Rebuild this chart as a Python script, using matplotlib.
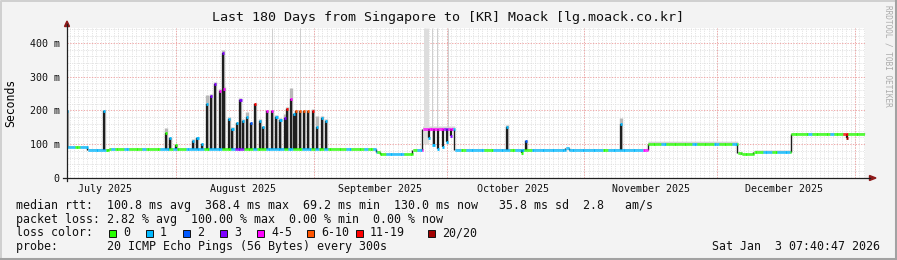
"""SmokePing style latency chart: Last 180 Days from Singapore to [KR] Moack."""

import datetime as dt

import numpy as np
import matplotlib
matplotlib.use("Agg")
import matplotlib.pyplot as plt
import matplotlib.dates as mdates
from matplotlib.patches import Rectangle, Polygon

MONO = "DejaVu Sans Mono"

START = dt.datetime(2025, 7, 7, 7, 40, 47)
SPAN_DAYS = 180

LOSS_COLORS = ["#26ff00", "#00b8ff", "#0059ff", "#7e00ff",
               "#ff00ff", "#ff5500", "#ff0000", "#a10000"]
LOSS_LABELS = ["0", "1", "2", "3", "4-5", "6-10", "11-19", "20/20"]

# median rtt as steps: day offset (from START) where a level begins, level in ms
base_start = [0.0, 4.6, 8.9, 9.4, 69.7, 70.6, 77.9, 80.1, 87.3,
              112.3, 113.2, 131.0, 151.2, 152.1, 154.8, 157.8, 163.2]
base_ms = [91, 84, 82, 86, 78, 70, 84, 146, 84,
           90, 84, 100, 74, 70, 77, 76, 130]
# light smoke spread above the median for each step (ms)
base_smoke = [4, 3, 3, 3, 3, 4, 3, 8, 3,
              3, 3, 9, 4, 4, 6, 7, 4]

# loss class of the median, one character per day
loss_codes = (
    "110111111"
    "01001000100011010011"
    "110111001330010011110100110101"
    "0000100010"
    "10011110001"
    "4444434"
    "11011110011110110011111111111111110111111114"
    "00010000001000010001"
    "000000110111"
    "00001000010060000"
)

# upward spikes: day offset, median peak (ms), smoke top (ms), loss class
spike_day = [0.2, 8.4, 22.4, 23.3, 24.7, 28.5, 29.5, 30.5, 31.6, 32.5,
             33.4, 34.6, 35.2, 35.5, 36.6, 37.4, 38.5, 39.2, 39.8, 40.6,
             41.5, 42.5, 43.6, 44.3, 45.2, 46.3, 47.3, 48.2, 49.2, 49.7,
             50.6, 51.2, 51.8, 52.6, 53.5, 54.5, 55.5, 56.5, 57.5, 58.4,
             99.2, 103.5, 124.9]
spike_ms = [197, 197, 132, 118, 97, 110, 118, 100, 220, 244,
            279, 258, 370, 262, 176, 146, 162, 232, 170, 182,
            162, 218, 170, 150, 197, 197, 182, 173, 179, 205,
            235, 188, 197, 197, 197, 197, 197, 150, 179, 170,
            151, 110, 161]
spike_smoke = [200, 200, 147, 122, 100, 114, 122, 104, 245, 250,
               285, 262, 378, 268, 182, 150, 166, 238, 176, 195,
               166, 222, 174, 154, 200, 200, 186, 178, 190, 210,
               265, 192, 200, 200, 200, 200, 205, 185, 183, 176,
               158, 112, 178]
spike_loss = [1, 1, 0, 1, 0, 1, 1, 1, 1, 3,
              3, 4, 3, 4, 1, 1, 1, 3, 1, 1,
              2, 6, 1, 1, 4, 4, 1, 1, 3, 6,
              4, 1, 5, 5, 5, 5, 6, 1, 1, 1,
              1, 2, 1]

# downward dips: day offset, lowest median (ms), loss class
dip_day = [81.6, 82.7, 83.7, 84.8, 85.7, 86.6, 102.6, 175.8]
dip_ms = [118, 97, 85, 91, 106, 125, 75, 118]
dip_loss = [1, 1, 1, 1, 1, 3, 0, 7]

# smoke columns running off the top of the graph: day offset, width (px)
tall_day = [46.3, 52.6, 80.9, 82.3, 83.4, 85.9]
tall_px = [1, 1, 5, 1, 1, 1]

# summary legend
median_line = "median rtt:  100.8 ms avg  368.4 ms max  69.2 ms min  130.0 ms now   35.8 ms sd  2.8   am/s"
loss_line = "packet loss: 2.82 % avg  100.00 % max  0.00 % min  0.00 % now"
probe_line = "probe:       20 ICMP Echo Pings (56 Bytes) every 300s"
stamp = "Sat Jan  3 07:40:47 2026"
title = "Last 180 Days from Singapore to [KR] Moack [lg.moack.co.kr]"

W, H = 897, 260
fig = plt.figure(figsize=(W / 100, H / 100), dpi=100, facecolor="#F3F3F3")
x0_px, x1_px, top_px, bot_px = 66.5, 865.3, 28, 178
ax = fig.add_axes([x0_px / W, (H - bot_px) / H, (x1_px - x0_px) / W, (bot_px - top_px) / H])
ax.set_facecolor("white")

t0 = mdates.date2num(START)
ax.set_xlim(t0, t0 + SPAN_DAYS)
ax.set_ylim(0, 444)

# grid
grid_minor = dict(color="#DCDCDC", lw=0.55, ls=(0, (1.5, 1.5)), zorder=0)
grid_major = dict(color="#EEA4A4", lw=0.65, ls=(0, (1.5, 1.5)), zorder=0.5)
for v in np.arange(np.ceil(t0), t0 + SPAN_DAYS):
    ax.axvline(v, **grid_minor)
for v in range(20, 444, 20):
    if v % 100:
        ax.axhline(v, **grid_minor)
months = [dt.datetime(2025, m, 1) for m in range(7, 13)] + [dt.datetime(2026, 1, 1)]
for m in months:
    v = mdates.date2num(m)
    if t0 < v < t0 + SPAN_DAYS:
        ax.axvline(v, **grid_major)
for v in (100, 200, 300, 400):
    ax.axhline(v, **grid_major)

# median series on a quarter-day grid
t = np.arange(0, SPAN_DAYS, 0.25)
seg = np.searchsorted(base_start, t, side="right") - 1
med = np.asarray(base_ms, float)[seg]
spread = np.asarray(base_smoke, float)[seg]
codes = np.array([int(c) for c in loss_codes])[t.astype(int)]
x = t0 + t

ax.fill_between(np.append(x, t0 + SPAN_DAYS), np.append(med, med[-1]),
                np.append(med + spread, med[-1] + spread[-1]),
                step="post", color="#D6D6D6", lw=0, zorder=1)

for d, w in zip(tall_day, tall_px):
    ax.vlines(t0 + d, 100, 444, color="#CFCFCF" if w == 1 else "#DDDDDD",
              lw=w * 0.72, zorder=1)

spike_base = np.asarray(base_ms, float)[np.searchsorted(base_start, spike_day, side="right") - 1]
sx = t0 + np.asarray(spike_day)
ax.vlines(sx, spike_base, spike_smoke, color="#B8B8B8", lw=2.4, zorder=2)
ax.vlines(sx, spike_base, spike_ms, color="#1E1E1E", lw=1.6, zorder=3)

dip_base = np.asarray(base_ms, float)[np.searchsorted(base_start, dip_day, side="right") - 1]
dx = t0 + np.asarray(dip_day)
ax.vlines(dx, dip_ms, dip_base, color="#1E1E1E", lw=1.6, zorder=3)

# step edges
for i in range(1, len(base_start)):
    lo, hi = sorted((base_ms[i - 1], base_ms[i]))
    ax.vlines(t0 + base_start[i], lo, hi, color="#1E1E1E", lw=1.0, zorder=3)

ax.hlines(med, x, x + 0.25, colors=[LOSS_COLORS[k] for k in codes], lw=2.0, zorder=4)
ax.hlines(spike_ms, sx - 0.25, sx + 0.25, colors=[LOSS_COLORS[k] for k in spike_loss],
          lw=2.0, zorder=5)
ax.hlines(dip_ms, dx - 0.25, dx + 0.25, colors=[LOSS_COLORS[k] for k in dip_loss],
          lw=2.0, zorder=5)

# axes decorations
for s in ax.spines.values():
    s.set_visible(False)
ax.set_yticks([0, 100, 200, 300, 400])
ax.set_yticklabels(["0", "100 m", "200 m", "300 m", "400 m"])
label_dates = [mdates.date2num(m + dt.timedelta(days=15)) for m in months]
label_dates = [v for v in label_dates if t0 < v < t0 + SPAN_DAYS]
ax.set_xticks(label_dates)
ax.set_xticklabels([mdates.num2date(v).strftime("%B %Y") for v in label_dates])
ax.tick_params(length=0, labelsize=7.2, colors="#111111")
ax.tick_params(axis="y", pad=5)
ax.tick_params(axis="x", pad=4)
for lab in ax.get_xticklabels() + ax.get_yticklabels():
    lab.set_family(MONO)
ax.set_ylabel("Seconds", family=MONO, fontsize=8.3, labelpad=9)

# overlay in pixel coordinates for frame, arrows and legend
ov = fig.add_axes([0, 0, 1, 1])
ov.set_xlim(0, W)
ov.set_ylim(H, 0)
ov.axis("off")

ov.plot([0.5, 0.5, W - 1], [H - 1, 0.5, 0.5], color="#D0D0D0", lw=1.4)
ov.plot([1, W - 1.5, W - 1.5], [H - 1.5, H - 1.5, 1], color="#A2A2A2", lw=2.2)

ov.plot([67, 67], [181, 24], color="#202020", lw=0.9)
ov.plot([63, 870], [178, 178], color="#202020", lw=0.9)
ov.add_patch(Polygon([(64.5, 26.5), (69.5, 26.5), (67, 21)], closed=True, color="#8E1A1A"))
ov.add_patch(Polygon([(869.5, 175.5), (869.5, 180.5), (876, 178)], closed=True, color="#8E1A1A"))

ov.text(448, 18, title, ha="center", va="center", family=MONO, fontsize=9.6, color="#111111")
ov.text(888, 5, "RRDTOOL / TOBI OETIKER", rotation=270, ha="center", va="top",
        family=MONO, fontsize=5.6, color="#ABABAB")

legend_font = dict(family=MONO, fontsize=8.4, color="#111111", va="center", ha="left")
ov.text(16, 205, median_line, **legend_font)
ov.text(16, 219, loss_line, **legend_font)
ov.text(16, 233, "loss color:", **legend_font)
ov.text(16, 246.5, probe_line, **legend_font)
ov.text(880, 246.5, stamp, **{**legend_font, "ha": "right"})

box_x = [109, 146, 183, 220, 257, 307, 356, 428]
for bx, col, lab in zip(box_x, LOSS_COLORS, LOSS_LABELS):
    ov.add_patch(Rectangle((bx, 229.5), 7, 7, facecolor=col, edgecolor="#111111", lw=0.7))
    ov.text(bx + 14, 233, lab, **legend_font)

fig.savefig("out.png", dpi=100, facecolor=fig.get_facecolor())
